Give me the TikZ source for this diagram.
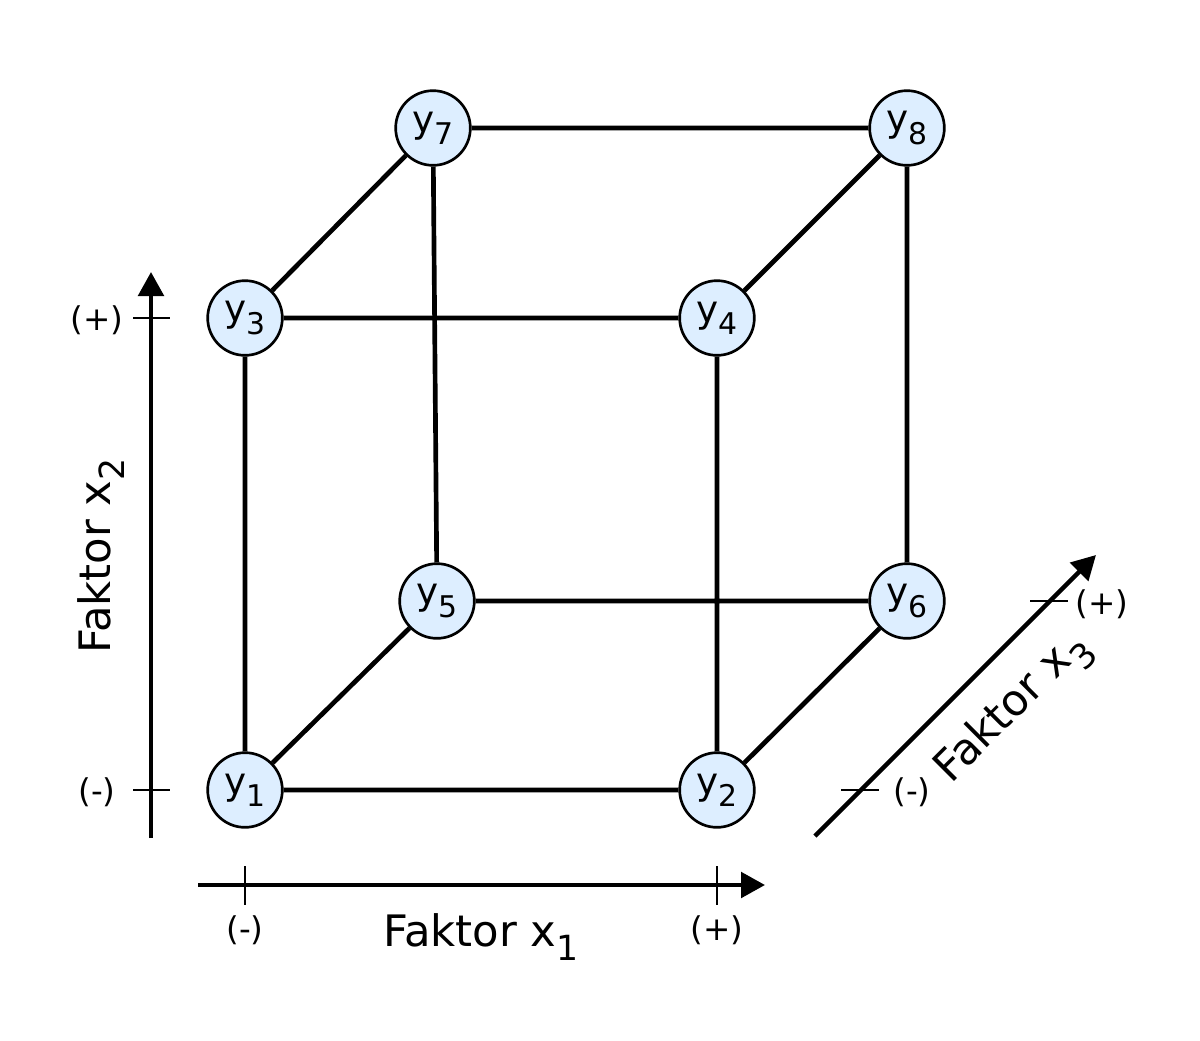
\documentclass[tikz,border=0pt]{standalone}
\usepackage{fontspec}
\setmainfont{DejaVu Sans}
\usetikzlibrary{arrows.meta}
\definecolor{nodefill}{HTML}{DDEEFF}
\newcommand{\sbs}[1]{\raisebox{-0.33em}{\scalebox{0.8}{#1}}}
\tikzset{
  pt/.style={circle,draw=black,line width=2pt,fill=nodefill,minimum size=56pt,inner sep=0pt,font=\fontsize{28}{30}\selectfont},
  edge/.style={line width=3.5pt},
  axis/.style={line width=3.3pt,-{Triangle[length=18pt,width=19pt]}},
  tick/.style={line width=1.6pt},
  lab/.style={font=\fontsize{24.5}{28}\selectfont,inner sep=0pt},
  axlab/.style={font=\fontsize{32.5}{36}\selectfont,inner sep=0pt}
}
\begin{document}
\begin{tikzpicture}[x=0.75pt,y=-0.75pt]
\useasboundingbox (0,0) rectangle (1200,1040);
\coordinate (a2s) at (151,838);
\coordinate (a2e) at (151,272);
\coordinate (a1s) at (198,885);
\coordinate (a1e) at (765,885);
\coordinate (a3s) at (815,836);
\coordinate (a3e) at (1096,555);
\node[pt] (y1) at (245,790) {y\sbs{1}};
\node[pt] (y2) at (717,790) {y\sbs{2}};
\node[pt] (y3) at (245,318) {y\sbs{3}};
\node[pt] (y4) at (717,318) {y\sbs{4}};
\node[pt] (y5) at (437,601) {y\sbs{5}};
\node[pt] (y6) at (907,601) {y\sbs{6}};
\node[pt] (y7) at (433,128) {y\sbs{7}};
\node[pt] (y8) at (907,128) {y\sbs{8}};
\draw[edge] (y1)--(y2) (y3)--(y4) (y1)--(y3) (y2)--(y4)
  (y5)--(y6) (y7)--(y8) (y5)--(y7) (y6)--(y8)
  (y1)--(y5) (y2)--(y6) (y3)--(y7) (y4)--(y8);
\draw[axis] (a2s)--(a2e);
\draw[axis] (a1s)--(a1e);
\draw[axis] (a3s)--(a3e);
\coordinate (t2a1) at (133,318); \coordinate (t2a2) at (170,318);
\coordinate (t2b1) at (133,790); \coordinate (t2b2) at (170,790);
\draw[tick] (t2a1)--(t2a2) (t2b1)--(t2b2);
\coordinate (t1a1) at (245,866); \coordinate (t1a2) at (245,905);
\coordinate (t1b1) at (717,866); \coordinate (t1b2) at (717,905);
\draw[tick] (t1a1)--(t1a2) (t1b1)--(t1b2);
\coordinate (t3a1) at (841,790); \coordinate (t3a2) at (879,790);
\coordinate (t3b1) at (1030,601); \coordinate (t3b2) at (1068,601);
\draw[tick] (t3a1)--(t3a2) (t3b1)--(t3b2);
\node[lab] (lp2) at (97,320) {(+)};
\node[lab] (lm2) at (97,792) {(-)};
\node[lab] (lm1) at (245,930) {(-)};
\node[lab] (lp1) at (717,930) {(+)};
\node[lab] (lm3) at (912,792) {(-)};
\node[lab] (lp3) at (1102,604) {(+)};
\node[axlab] (f1) at (481,937) {Faktor x\sbs{1}};
\node[axlab,rotate=90] (f2) at (101,556) {Faktor x\sbs{2}};
\node[axlab,rotate=45] (f3) at (1014,709) {Faktor x\sbs{3}};
\end{tikzpicture}
\end{document}
